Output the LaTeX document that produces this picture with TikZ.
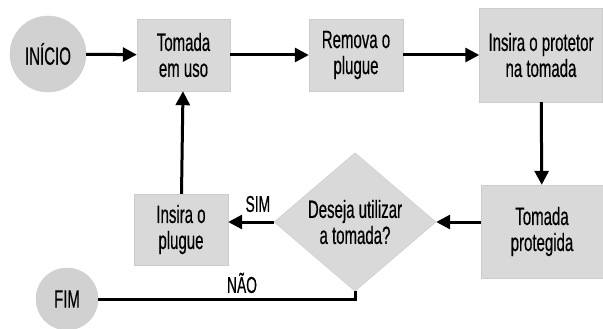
\documentclass[tikz,border=0pt]{standalone}
\usepackage{fontspec}
\setmainfont{Liberation Sans}[FakeStretch=0.6,FakeBold=0.4]
\usetikzlibrary{shapes.geometric,arrows.meta}
\begin{document}
\begin{tikzpicture}[x=1pt,y=-1pt]

	\tikzset{
	  caixa/.style={
		draw=black!20,
		fill=black!15,
		align=center,
		inner sep=0pt,
		font=\fontsize{25}{26}\selectfont,
	  },
	  circulo/.style={
		circle,
		draw=black!20,
		fill=black!18,
		inner sep=0pt,
		font=\fontsize{25}{26}\selectfont,
	  },
	  losango/.style={
		diamond,
		draw=black!20,
		fill=black!15,
		align=center,
		inner sep=0pt,
		minimum width=162pt,
		minimum height=125pt,
		font=\fontsize{25}{26}\selectfont,
	  },
	  seta/.style={line width=3pt,-{Triangle[length=14pt,width=14pt]}},
	  linha/.style={line width=3pt},
	  rotulo/.style={font=\fontsize{23}{24}\selectfont},
	}
	\fill[white] (0,0) rectangle (603,329);
	\useasboundingbox (0,0) rectangle (603,329);

	\node[circulo,minimum size=76pt] (inicio) at (48,54) {INÍCIO};
	\node[caixa,minimum width=93pt,minimum height=72pt] (uso) at (183.5,55) {Tomada\\em uso};
	\node[caixa,minimum width=94pt,minimum height=72pt] (remova) at (356,55) {Remova o\\plugue};
	\node[caixa,minimum width=123pt,minimum height=94pt] (protetor) at (541,55) {Insira o protetor\\na tomada};
	\node[caixa,minimum width=122pt,minimum height=93pt] (protegida) at (542,231.5) {Tomada\\protegida};
	\node[losango] (decisao) at (355,222) {Deseja utilizar\\a tomada?};
	\node[caixa,minimum width=94pt,minimum height=71pt] (plugue) at (181,229.5) {Insira o\\plugue};
	\node[circulo,minimum size=62pt] (fim) at (67,299) {FIM};

	\draw[seta] (inicio) -- (uso);
	\draw[seta] (uso) -- (remova);
	\draw[seta] (remova) -- (protetor);
	\draw[seta] (protetor) -- (protegida);
	\draw[seta] (decisao.east -| protegida.west) -- (decisao.east);
	\draw[seta] (decisao.west) -- node[rotulo,above=5pt,pos=0.35] {SIM} (decisao.west -| plugue.east);
	\draw[seta] (plugue) -- (uso);
	\draw[linha] (decisao.south) |- node[rotulo,above=1pt,pos=0.72] {NÃO} (fim.east);

\end{tikzpicture}
\end{document}
